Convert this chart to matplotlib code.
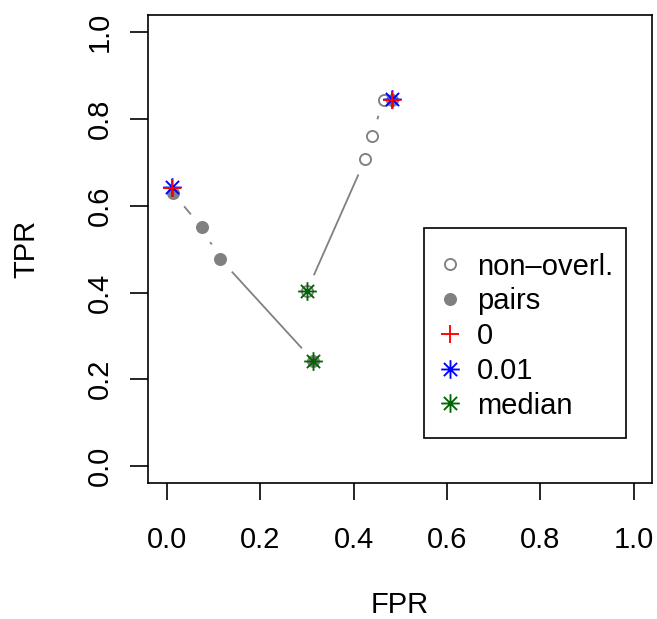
import matplotlib
matplotlib.use("Agg")
import matplotlib.pyplot as plt
from matplotlib.path import Path
from matplotlib.lines import Line2D
from matplotlib.patches import Rectangle
import numpy as np

plt.rcParams['font.family'] = ['Liberation Sans', 'DejaVu Sans']

# ---- data ----
nonoverl_fpr = [0.300, 0.425, 0.440, 0.464]
nonoverl_tpr = [0.404, 0.708, 0.762, 0.845]
pairs_fpr = [0.0135, 0.0744, 0.1144, 0.3138]
pairs_tpr = [0.629, 0.550, 0.477, 0.2423]
pairs_extra_fpr = [0.483]
pairs_extra_tpr = [0.845]
thr0_fpr = [0.010, 0.483]
thr0_tpr = [0.641, 0.845]
thr001_fpr = [0.010, 0.483]
thr001_tpr = [0.644, 0.846]
median_fpr = [0.300, 0.3138]
median_tpr = [0.404, 0.2423]
ticks = [0.0, 0.2, 0.4, 0.6, 0.8, 1.0]
tick_labels = ["0.0", "0.2", "0.4", "0.6", "0.8", "1.0"]
legend_labels = ["non\u2013overl.", "pairs", "0", "0.01", "median"]

GRAY = "#808080"
GREEN = "#006400"
FS = 21
W, H = 657, 619
DPI = 100
AX_L, AX_R, AX_T, AX_B = 148.3, 652.3, 15.0, 483.3

fig = plt.figure(figsize=(W / DPI, H / DPI), dpi=DPI)
ax = fig.add_axes([AX_L / W, (H - AX_B) / H, (AX_R - AX_L) / W, (AX_B - AX_T) / H])
ax.set_xlim(-0.04, 1.04)
ax.set_ylim(-0.04, 1.04)


def px2ax(x, y):
    return ((x - AX_L) / (AX_R - AX_L), (AX_B - y) / (AX_B - AX_T))


# star marker (R pch 8)
sv, sc = [], []
for ang in np.deg2rad([0, 45, 90, 135]):
    dx, dy = np.cos(ang), np.sin(ang)
    sv += [(-dx, -dy), (dx, dy)]
    sc += [Path.MOVETO, Path.LINETO]
STAR = Path(sv, sc)

GAP = 17.0  # px gap at each end (R type="b")


def draw_b(xs, ys, color):
    pts = ax.transData.transform(np.column_stack([xs, ys]))
    inv = ax.transData.inverted()
    for p0, p1 in zip(pts[:-1], pts[1:]):
        d = p1 - p0
        L = np.hypot(*d)
        if L <= 2 * GAP:
            continue
        u = d / L
        a = inv.transform(p0 + u * GAP)
        b = inv.transform(p1 - u * GAP)
        ax.plot([a[0], b[0]], [a[1], b[1]], color=color, lw=1.3,
                solid_capstyle='butt')


draw_b(nonoverl_fpr, nonoverl_tpr, GRAY)
draw_b(pairs_fpr, pairs_tpr, GRAY)

CMS = 8.0
SMS = 13.4
MEW = 1.35
SMEW = 1.35
ax.plot(nonoverl_fpr, nonoverl_tpr, ls='none', marker='o', ms=CMS,
        mfc='none', mec=GRAY, mew=MEW)
ax.plot(pairs_fpr, pairs_tpr, ls='none', marker='o', ms=CMS,
        mfc=GRAY, mec=GRAY, mew=MEW)
ax.plot(pairs_extra_fpr, pairs_extra_tpr, ls='none', marker='o', ms=CMS,
        mfc=GRAY, mec=GRAY, mew=MEW)
ax.plot(thr001_fpr, thr001_tpr, ls='none', marker=STAR, ms=SMS,
        mfc='none', mec='blue', mew=SMEW)
ax.plot(thr0_fpr, thr0_tpr, ls='none', marker='+', ms=SMS,
        mec='red', mew=SMEW)
ax.plot(median_fpr, median_tpr, ls='none', marker=STAR, ms=SMS,
        mfc='none', mec=GREEN, mew=SMEW)

for s in ax.spines.values():
    s.set_linewidth(1.2)

ax.set_xticks(ticks)
ax.set_xticklabels(tick_labels)
ax.set_yticks(ticks)
ax.set_yticklabels(tick_labels, rotation=90, va='center')
ax.tick_params(axis='x', length=12.2, width=1.2, pad=18.5, labelsize=FS)
ax.tick_params(axis='y', length=13, width=1.2, pad=12.0, labelsize=FS)

fig.text(400 / W, 1 - 605 / H, "FPR", ha='center', va='center', fontsize=FS)
fig.text(26 / W, 1 - 249 / H, "TPR", ha='center', va='center', fontsize=FS,
         rotation=90)

# legend frame (R-style box)
x0, y0 = px2ax(424, 438)
x1, y1 = px2ax(626, 228)
ax.add_patch(Rectangle((x0, y0), x1 - x0, y1 - y0, transform=ax.transAxes,
                       facecolor='white', edgecolor='black', lw=1.2, zorder=4))

handles = [
    Line2D([], [], ls='none', marker='o', ms=CMS, mfc='none', mec=GRAY, mew=MEW),
    Line2D([], [], ls='none', marker='o', ms=CMS, mfc=GRAY, mec=GRAY, mew=MEW),
    Line2D([], [], ls='none', marker='+', ms=SMS, mec='red', mew=SMEW),
    Line2D([], [], ls='none', marker=STAR, ms=SMS, mfc='none', mec='blue', mew=SMEW),
    Line2D([], [], ls='none', marker=STAR, ms=SMS, mfc='none', mec=GREEN, mew=SMEW),
]
leg = ax.legend(handles, legend_labels, loc='upper left',
                bbox_to_anchor=px2ax(441.2, 252.7), fontsize=FS, frameon=False,
                borderpad=0, labelspacing=0.23,
                handlelength=0.6, handletextpad=0.63, borderaxespad=0)
leg.set_zorder(5)

fig.savefig("out.png", dpi=DPI)
